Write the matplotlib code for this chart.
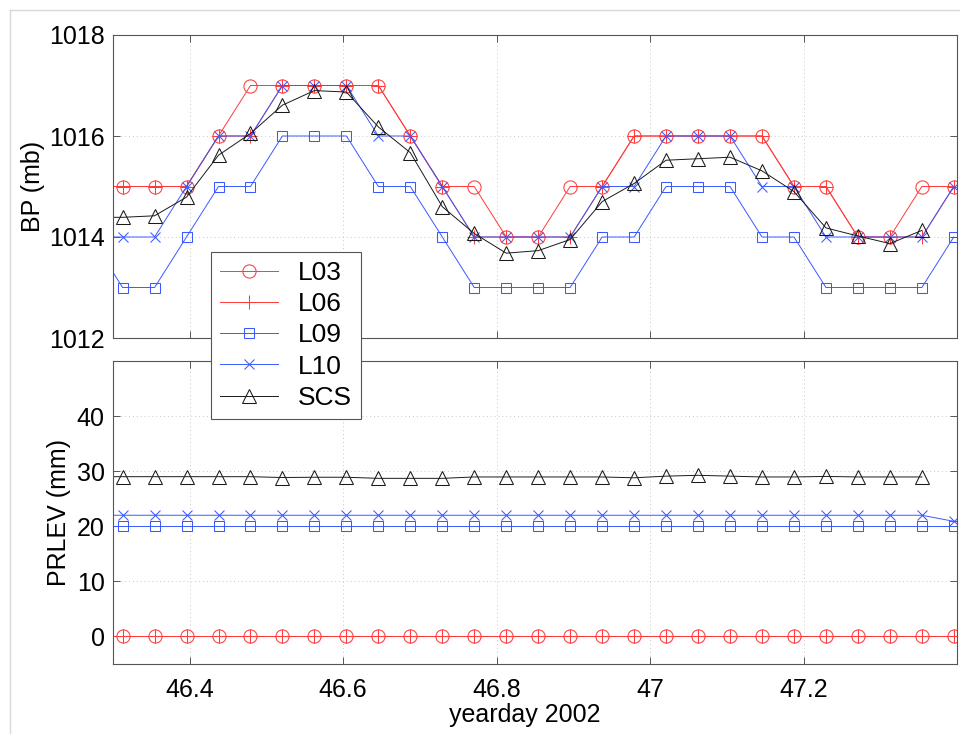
import matplotlib

matplotlib.use("Agg")

import matplotlib.pyplot as plt
import numpy as np
from matplotlib.lines import Line2D

plt.rcParams["font.family"] = ["Liberation Sans", "DejaVu Sans"]

nan = np.nan

# hourly samples, yearday 2002
yearday = [46.2708, 46.3125, 46.3542, 46.3958, 46.4375, 46.4792, 46.5208,
           46.5625, 46.6042, 46.6458, 46.6875, 46.7292, 46.7708, 46.8125,
           46.8542, 46.8958, 46.9375, 46.9792, 47.0208, 47.0625, 47.1042,
           47.1458, 47.1875, 47.2292, 47.2708, 47.3125, 47.3542, 47.3958]

# barometric pressure (mb)
bp_l03 = [1015, 1015, 1015, 1015, 1016, 1017, 1017, 1017, 1017, 1017, 1016, 1015, 1015, 1014,
          1014, 1015, 1015, 1016, 1016, 1016, 1016, 1016, 1015, 1015, 1014, 1014, 1015, 1015]
bp_l06 = [1015, 1015, 1015, 1015, 1016, 1016, 1017, 1017, 1017, 1017, 1016, 1015, 1014, 1014,
          1014, 1014, 1015, 1016, 1016, 1016, 1016, 1016, 1015, 1015, 1014, 1014, 1014, 1015]
bp_l09 = [1014, 1013, 1013, 1014, 1015, 1015, 1016, 1016, 1016, 1015, 1015, 1014, 1013, 1013,
          1013, 1013, 1014, 1014, 1015, 1015, 1015, 1014, 1014, 1013, 1013, 1013, 1013, 1014]
bp_l10 = [1014, 1014, 1014, 1015, 1016, 1016, 1017, 1017, 1017, 1016, 1016, 1015, 1014, 1014,
          1014, 1014, 1015, 1015, 1016, 1016, 1016, 1015, 1015, 1014, 1014, 1014, 1014, 1015]
bp_scs = [1014.39, 1014.39, 1014.42, 1014.79, 1015.62, 1016.05, 1016.61, 1016.90, 1016.87,
          1016.18, 1015.67, 1014.60, 1014.07, 1013.68, 1013.73, 1013.95, 1014.70, 1015.06,
          1015.52, 1015.55, 1015.58, 1015.31, 1014.90, 1014.18, 1014.02, 1013.87, 1014.13, nan]

# pressure level (mm)
pr_l03 = [0] * 28
pr_l06 = [0] * 28
pr_l09 = [20] * 28
pr_l10 = [22, 22, 22, 22, 22, 22, 22, 22, 22, 22, 22, 22, 22, 22,
          22, 22, 22, 22, 22, 22, 22, 22, 22, 22, 22, 22, 22, 20.9]
pr_scs = [29.0, 29.0, 29.0, 29.0, 29.0, 29.0, 28.85, 28.9, 28.9, 28.7, 28.7, 28.7, 28.95, 28.95,
          28.95, 28.95, 28.95, 28.8, 29.1, 29.25, 29.1, 28.95, 28.95, 29.05, 28.95, 28.95, 28.95, nan]

names = ["L03", "L06", "L09", "L10", "SCS"]
bp = [bp_l03, bp_l06, bp_l09, bp_l10, bp_scs]
pr = [pr_l03, pr_l06, pr_l09, pr_l10, pr_scs]

RED = "#ff3a3a"
BLUE = "#3a5aff"
styles = [
    dict(color=RED, marker="o", ms=9.5),
    dict(color=RED, marker="+", ms=10),
    dict(color=BLUE, marker="s", ms=7.5),
    dict(color=BLUE, marker="x", ms=7),
    dict(color="#1a1a1a", marker="^", ms=10),
]

fig = plt.figure(figsize=(9.6, 7.34), dpi=100)
W, H = 960, 734
ax1 = fig.add_axes([113 / W, 1 - 338 / H, 844 / W, 303 / H])
ax2 = fig.add_axes([113 / W, 1 - 664 / H, 844 / W, 303 / H])

for ax, series in ((ax1, bp), (ax2, pr)):
    for name, y, st in zip(names, series, styles):
        ax.plot(yearday, y, color=st["color"], lw=0.7, marker=st["marker"],
                ms=st["ms"], mfc="none", mec=st["color"], mew=0.75, label=name)
    ax.set_xlim(46.3, 47.4)
    ax.set_xticks([46.4, 46.6, 46.8, 47.0, 47.2])
    ax.grid(True, linestyle=(0, (1, 3)), color="#c8c8c8", linewidth=0.7)
    ax.tick_params(direction="in", top=True, right=True, length=5, width=0.7,
                   color="#555555", labelsize=18, pad=6)
    ax.tick_params(axis="x", pad=10)
    for sp in ax.spines.values():
        sp.set_color("#555555")
        sp.set_linewidth(0.8)

ax1.set_ylim(1012, 1018)
ax1.set_yticks([1012, 1014, 1016, 1018])
ax1.set_xticklabels([])
ax1.set_ylabel("BP (mb)", fontsize=18, labelpad=3)

ax2.set_ylim(-5, 50)
ax2.set_yticks([0, 10, 20, 30, 40])
ax2.set_xticklabels(["46.4", "46.6", "46.8", "47", "47.2"])
ax2.set_ylabel("PRLEV (mm)", fontsize=18, labelpad=4)
ax2.set_xlabel("yearday 2002", fontsize=18, labelpad=1)
ax2.xaxis.label.set_x(0.488)

handles, labels = ax1.get_legend_handles_labels()
leg = fig.legend(handles, labels, loc="upper left", bbox_to_anchor=(211 / W, 1 - 252 / H),
                 fontsize=19, frameon=True, fancybox=False, framealpha=1,
                 edgecolor="#555555", handlelength=2.2, handletextpad=0.75,
                 labelspacing=0.27, borderpad=0.35, borderaxespad=0)
leg.get_frame().set_linewidth(0.8)

# light frame around the figure
fig.add_artist(Line2D([10 / W, 1], [1 - 10 / H, 1 - 10 / H], color="#d8d8d8", lw=1))
fig.add_artist(Line2D([10 / W, 10 / W], [0, 1 - 10 / H], color="#d8d8d8", lw=1))

fig.savefig("out.png", dpi=100)
